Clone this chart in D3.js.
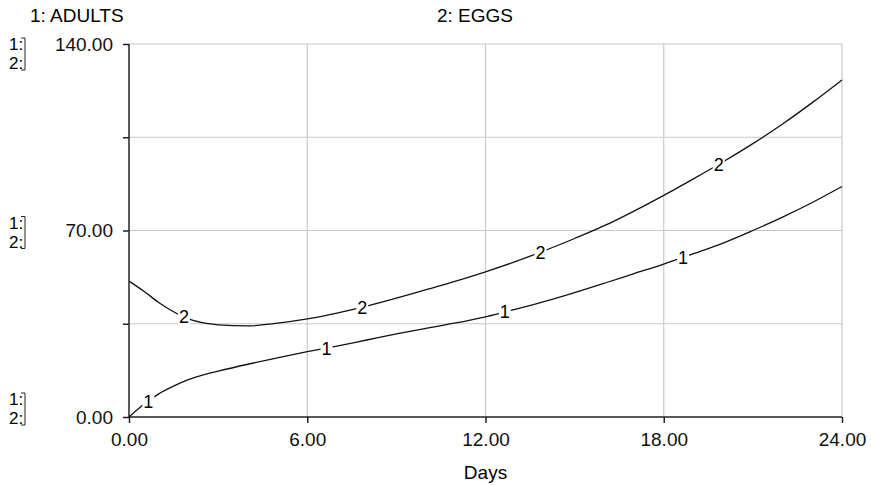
<!DOCTYPE html>
<html>
<head>
<meta charset="utf-8">
<script src="https://cdn.jsdelivr.net/npm/d3@7"></script>
<style>
    body { margin: 0; background: #fff; }
    svg { display: block; font-family: "Liberation Sans", Arial, sans-serif; }
    .grid line { stroke: #c8c8c8; stroke-width: 1.2; }
    .axis path, .axis line { stroke: #222; stroke-width: 1.5; }
    .axis text { font-size: 19px; fill: #111; }
    .series { fill: none; stroke: #111; stroke-width: 1.3; }
</style>
</head>
<body>
<div id="chart"></div>
<script>
const days = [0, 0.5, 1, 1.5, 2, 2.5, 3, 4, 5, 6, 7, 8, 9, 10, 11, 12, 13, 14, 15, 16, 17, 18, 19, 20, 21, 22, 23, 24]
const adults = [0, 4.8, 8.7, 11.6, 14, 15.8, 17.2, 19.8, 22.2, 24.5, 26.6, 28.9, 31.2, 33.3, 35.3, 37.6, 40.4, 43.4, 46.7, 50.2, 53.8, 57.4, 61.3, 65.3, 70, 75, 80.5, 86.5]
const eggs = [51, 47.2, 43, 39.5, 36.8, 35.3, 34.6, 34.2, 35.2, 36.8, 39, 41.6, 44.6, 47.8, 51, 54.5, 58.3, 62.5, 67, 71.8, 77.3, 83.2, 89.4, 95.8, 102.6, 110, 118, 126.5]
const seriesNames = ['1: ADULTS', '2: EGGS']
const seriesTags = ['1', '2']
const xTicks = [0, 6, 12, 18, 24]
const yMajorTicks = [0, 70, 140]
const yMinorTicks = [35, 105]
const tagDays = [[0.65, 6.65, 12.65, 18.65], [1.85, 7.85, 13.85, 19.85]]

function drawChart() {
    let dimensions = {
        width: 871,
        height: 485,
        margin: { top: 44, right: 29, bottom: 68, left: 129 },
    }
    dimensions.boundedWidth = dimensions.width - dimensions.margin.left - dimensions.margin.right
    dimensions.boundedHeight = dimensions.height - dimensions.margin.top - dimensions.margin.bottom

    const svg = d3.select('#chart')
        .append('svg')
        .attr('width', dimensions.width)
        .attr('height', dimensions.height)

    const bounds = svg.append('g')
        .attr('transform', `translate(${dimensions.margin.left}, ${dimensions.margin.top})`)

    const xScale = d3.scaleLinear()
        .domain([0, 24])
        .range([0, dimensions.boundedWidth])

    const yScale = d3.scaleLinear()
        .domain([0, 140])
        .range([dimensions.boundedHeight, 0])

    // grid
    const grid = bounds.append('g').attr('class', 'grid')
    grid.selectAll('.gx')
        .data(xTicks.slice(1))
        .enter().append('line')
        .attr('x1', d => xScale(d)).attr('x2', d => xScale(d))
        .attr('y1', 0).attr('y2', dimensions.boundedHeight)
    grid.selectAll('.gy')
        .data([35, 70, 105, 140])
        .enter().append('line')
        .attr('y1', d => yScale(d)).attr('y2', d => yScale(d))
        .attr('x1', 0).attr('x2', dimensions.boundedWidth)

    // axes
    const xAxis = d3.axisBottom(xScale)
        .tickValues(xTicks)
        .tickSize(6)
        .tickPadding(10)
        .tickFormat(d3.format('.2f'))
    bounds.append('g')
        .attr('class', 'axis')
        .attr('transform', `translate(0, ${dimensions.boundedHeight})`)
        .call(xAxis)
        .call(g => g.select('.domain').attr('d', `M0,0H${dimensions.boundedWidth}`))

    const yAxis = d3.axisLeft(yScale)
        .tickValues(yMajorTicks.concat(yMinorTicks))
        .tickSize(6)
        .tickPadding(10)
        .tickFormat(d => yMajorTicks.includes(d) ? d3.format('.2f')(d) : '')
    bounds.append('g')
        .attr('class', 'axis')
        .call(yAxis)
        .call(g => g.select('.domain').attr('d', `M0,0V${dimensions.boundedHeight}`))

    bounds.append('text')
        .attr('x', xScale(12))
        .attr('y', dimensions.boundedHeight + 62)
        .attr('text-anchor', 'middle')
        .style('font-size', '19px')
        .text('Days')

    // series
    const seriesData = [adults, eggs]
    const lineGenerator = d3.line()
        .x((d, i) => xScale(days[i]))
        .y(d => yScale(d))
        .curve(d3.curveMonotoneX)

    bounds.selectAll('.series')
        .data(seriesData)
        .enter().append('path')
        .attr('class', 'series')
        .attr('d', lineGenerator)

    const valueAt = (values, day) => {
        const interp = d3.scaleLinear().domain(days).range(values)
        return interp(day)
    }

    seriesData.forEach((values, s) => {
        const tags = bounds.append('g')
            .selectAll('g')
            .data(tagDays[s])
            .enter().append('g')
            .attr('transform', d => `translate(${xScale(d)}, ${yScale(valueAt(values, d))})`)
        tags.append('rect')
            .attr('x', -6).attr('y', -9)
            .attr('width', 12).attr('height', 18)
            .attr('fill', '#fff')
        tags.append('text')
            .attr('text-anchor', 'middle')
            .attr('dy', '0.36em')
            .style('font-size', '18px')
            .text(seriesTags[s])
    })

    // header
    svg.selectAll('.header')
        .data(seriesNames)
        .enter().append('text')
        .attr('class', 'header')
        .attr('x', (d, i) => i == 0 ? 30 : 437)
        .attr('y', 22)
        .style('font-size', '19px')
        .text(d => d)

    // left scale markers
    const markerOffsets = [[140, 6], [70, -2], [0, -12]]
    markerOffsets.forEach(([v, off]) => {
        const base = dimensions.margin.top + yScale(v) + off
        const g = svg.append('g')
        seriesTags.forEach((t, i) => {
            g.append('text')
                .attr('x', 9)
                .attr('y', base + i * 19)
                .style('font-size', '17px')
                .text(t + ':')
        })
        g.append('path')
            .attr('d', `M21,${base - 12}H25V${base + 20}H21`)
            .attr('fill', 'none')
            .attr('stroke', '#222')
            .attr('stroke-width', 1)
    })
}

drawChart()
</script>
</body>
</html>
